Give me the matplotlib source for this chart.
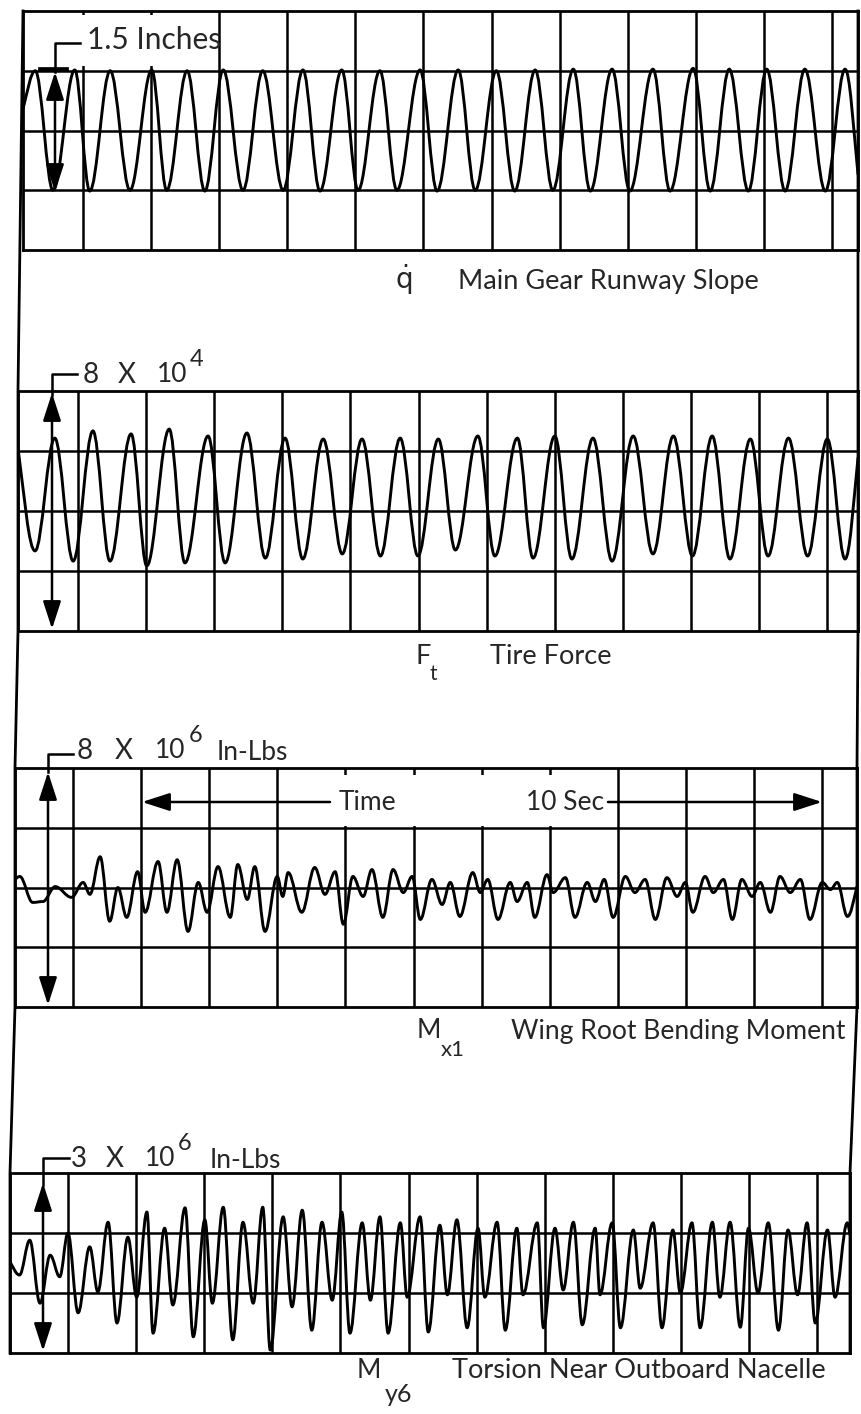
import matplotlib
matplotlib.use("Agg")
import matplotlib.pyplot as plt
from matplotlib.path import Path
from matplotlib.patches import PathPatch, Rectangle

# ---------------- data (extrema) ----------------
# time in seconds (1 s per vertical grid division)
# Panel 1: q-dot, main gear runway slope (inches)
slope_t = [-0.88, -0.70, -0.44, -0.12, 0.10, 0.40, 0.69, 1.01, 1.23, 1.53, 1.79, 2.06, 2.35, 2.64,
           2.94, 3.23, 3.48, 3.80, 4.04, 4.36, 4.61, 4.95, 5.20, 5.51, 5.76, 6.07, 6.34, 6.64,
           6.90, 7.20, 7.45, 7.77, 8.03, 8.37, 8.62, 8.96, 9.21, 9.49, 9.77, 10.04, 10.31,
           10.60, 10.90, 11.19, 11.38]
slope_v = [0.27, 0.75, -0.75, 0.76, -0.76, 0.75, -0.75, 0.76, -0.75, 0.75, -0.76, 0.76, -0.75,
           0.75, -0.75, 0.76, -0.76, 0.76, -0.75, 0.75, -0.75, 0.76, -0.76, 0.76, -0.75, 0.75,
           -0.76, 0.76, -0.75, 0.77, -0.76, 0.77, -0.76, 0.77, -0.76, 0.78, -0.76, 0.77, -0.76,
           0.77, -0.76, 0.77, -0.76, 0.77, -0.55]

# Panel 2: F_t, tire force (10^4 lb)
tire_t = [-0.88, -0.63, -0.34, -0.07, 0.22, 0.47, 0.78, 1.01, 1.34, 1.57, 1.91, 2.16, 2.48, 2.75,
          3.04, 3.30, 3.60, 3.88, 4.17, 4.44, 4.73, 4.99, 5.29, 5.54, 5.87, 6.12, 6.45, 6.68,
          7.00, 7.25, 7.56, 7.84, 8.15, 8.44, 8.74, 9.02, 9.31, 9.57, 9.87, 10.13, 10.43, 10.71,
          11.00, 11.26, 11.45]
tire_v = [2.10, -1.33, 2.43, -1.67, 2.67, -1.67, 2.57, -1.83, 2.73, -1.73, 2.50, -1.73, 2.60,
          -1.57, 2.43, -1.60, 2.40, -1.43, 2.40, -1.50, 2.43, -1.50, 2.40, -1.30, 2.50, -1.50,
          2.43, -1.57, 2.50, -1.60, 2.43, -1.67, 2.50, -1.43, 2.50, -1.50, 2.50, -1.60, 2.40,
          -1.50, 2.43, -1.50, 2.40, -1.60, 1.77]

# Panel 3: M_x1, wing root bending moment (10^6 in-lb)
bend_t = [-0.85, -0.78, -0.59, -0.44, -0.26, -0.02, 0.15, 0.25, 0.40, 0.54, 0.66, 0.79, 0.95,
          1.06, 1.25, 1.38, 1.53, 1.69, 1.84, 1.97, 2.13, 2.31, 2.42, 2.56, 2.67, 2.82, 3.00,
          3.08, 3.16, 3.36, 3.55, 3.70, 3.85, 3.97, 4.11, 4.26, 4.39, 4.55, 4.70, 4.85, 4.98,
          5.10, 5.27, 5.42, 5.54, 5.68, 5.87, 5.98, 6.09, 6.24, 6.42, 6.52, 6.67, 6.78, 6.96,
          7.05, 7.23, 7.37, 7.55, 7.67, 7.80, 7.93, 8.11, 8.25, 8.40, 8.55, 8.72, 8.87, 8.99,
          9.10, 9.28, 9.40, 9.55, 9.68, 9.82, 9.97, 10.09, 10.24, 10.38, 10.53, 10.68, 10.82,
          11.00, 11.12, 11.22, 11.37, 11.51]
bend_v = [0.27, 0.37, -0.50, -0.47, 0.03, -0.33, 0.17, -0.23, 1.03, -1.13, 0.00, -1.00, 0.53,
          -0.83, 0.87, -0.83, 0.93, -1.47, 0.17, -0.83, 0.70, -1.00, 0.77, -0.40, 0.70, -1.47,
          0.37, -0.30, 0.50, -0.83, 0.67, -0.23, 0.53, -1.23, 0.37, -0.30, 0.60, -1.00, 0.60,
          -0.17, 0.37, -1.07, 0.27, -0.57, 0.17, -0.97, 0.50, -0.17, 0.27, -1.07, 0.17, -0.47,
          0.17, -1.00, 0.43, -0.17, 0.33, -1.00, 0.17, -0.47, 0.27, -1.00, 0.37, -0.17, 0.27,
          -1.07, 0.33, -0.30, 0.17, -0.83, 0.37, -0.17, 0.27, -1.07, 0.27, -0.30, 0.17, -0.83,
          0.37, -0.17, 0.27, -1.07, 0.17, -0.07, 0.17, -0.97, 0.03]

# Panel 4: M_y6, torsion near outboard nacelle (10^6 in-lb)
tors_t = [-0.85, -0.71, -0.56, -0.41, -0.26, -0.12, 0.00, 0.15, 0.32, 0.44, 0.59, 0.72, 0.88,
          1.01, 1.16, 1.25, 1.42, 1.54, 1.72, 1.84, 2.01, 2.12, 2.28, 2.42, 2.57, 2.72, 2.86,
          2.97, 3.16, 3.29, 3.44, 3.58, 3.73, 3.88, 4.02, 4.14, 4.32, 4.44, 4.58, 4.70, 4.88,
          4.98, 5.17, 5.29, 5.46, 5.57, 5.71, 5.86, 6.02, 6.12, 6.30, 6.42, 6.59, 6.68, 6.89,
          6.98, 7.15, 7.27, 7.42, 7.55, 7.74, 7.81, 7.99, 8.11, 8.30, 8.40, 8.59, 8.72, 8.88,
          8.99, 9.16, 9.28, 9.46, 9.57, 9.72, 9.87, 9.99, 10.13, 10.28, 10.43, 10.57, 10.71,
          10.85, 10.97, 11.15, 11.26, 11.44, 11.48]
tors_v = [0.02, -0.20, 0.38, -0.67, 0.13, -0.23, 0.50, -0.83, 0.27, -0.48, 0.68, -1.00, 0.43,
          -0.57, 0.85, -1.17, 0.58, -0.70, 0.92, -1.23, 0.72, -0.67, 0.93, -1.28, 0.68, -0.67,
          0.93, -1.45, 0.77, -0.73, 0.88, -1.12, 0.68, -0.62, 0.85, -1.17, 0.67, -0.62, 0.77,
          -1.17, 0.67, -0.57, 0.77, -1.15, 0.63, -0.53, 0.72, -1.08, 0.58, -0.57, 0.68, -1.12,
          0.58, -0.53, 0.67, -1.08, 0.58, -0.45, 0.68, -1.03, 0.58, -0.53, 0.67, -1.08, 0.55,
          -0.42, 0.67, -1.08, 0.55, -0.50, 0.67, -1.08, 0.68, -0.57, 0.68, -1.07, 0.58, -0.50,
          0.67, -1.12, 0.55, -0.53, 0.67, -1.00, 0.55, -0.57, 0.67, 0.47]

grid_seconds = list(range(0, 12))
titles = ["Main Gear Runway Slope", "Tire Force", "Wing Root Bending Moment",
          "Torsion Near Outboard Nacelle"]

# ---------------- layout ----------------
W, H = 861, 1414
fig = plt.figure(figsize=(W / 100, H / 100), dpi=100)
fig.patch.set_facecolor("white")
FONT = ["Lato", "DejaVu Sans"]
TXT = "#262626"
LW_GRID = 1.8
LW_TRACE = 2.1


def px_axes(left, right, top, bottom):
    return fig.add_axes([left / W, 1 - bottom / H, (right - left) / W, (bottom - top) / H])


def trace(ax, t, v):
    verts = [(t[0], v[0])]
    codes = [Path.MOVETO]
    n = len(t)
    for i in range(n - 1):
        t0, v0, t1, v1 = t[i], v[i], t[i + 1], v[i + 1]
        d = 0.3634 * (t1 - t0)
        c1 = (t0 + d, v0) if i > 0 else (t0 + d, v0 + 0.45 * (v1 - v0))
        c2 = (t1 - d, v1) if i + 1 < n - 1 else (t1 - d, v1 - 0.45 * (v1 - v0))
        verts += [c1, c2, (t1, v1)]
        codes += [Path.CURVE4] * 3
    ax.add_patch(PathPatch(Path(verts, codes), fill=False, lw=LW_TRACE, ec="black",
                           joinstyle="round", capstyle="round", zorder=3))


panels = [
    dict(px=(23, 858, 11, 250), xl=(-0.88, 11.38), yl=(-1.5, 1.5), yt=[-0.75, 0, 0.75],
         t=slope_t, v=slope_v),
    dict(px=(18, 858, 391, 631), xl=(-0.88, 11.45), yl=(-4, 4), yt=[-2, 0, 2],
         t=tire_t, v=tire_v),
    dict(px=(15, 857, 768, 1007), xl=(-0.85, 11.51), yl=(-4, 4), yt=[-2, 0, 2],
         t=bend_t, v=bend_v),
    dict(px=(10, 850, 1173, 1353), xl=(-0.85, 11.48), yl=(-1.5, 1.5), yt=[-0.5, 0.5],
         t=tors_t, v=tors_v),
]

for p in panels:
    ax = px_axes(*p["px"])
    ax.set_xlim(*p["xl"])
    ax.set_ylim(*p["yl"])
    ax.set_xticks(grid_seconds)
    ax.set_yticks(p["yt"])
    ax.tick_params(length=0, labelbottom=False, labelleft=False)
    ax.grid(True, color="black", lw=LW_GRID)
    ax.set_axisbelow(True)
    for s in ax.spines.values():
        s.set_linewidth(LW_GRID + 0.2)
        s.set_color("black")
    trace(ax, p["t"], p["v"])

# overlay in pixel coordinates for frame, scale markers and captions
ov = fig.add_axes([0, 0, 1, 1], zorder=10)
ov.set_xlim(0, W)
ov.set_ylim(H, 0)
ov.axis("off")

# white label areas that interrupt the grid on the record
ov.add_patch(Rectangle((80, 15), 138, 51, fc="white", ec="none", zorder=1))
ov.add_patch(Rectangle((334, 775), 278, 51, fc="white", ec="none", zorder=1))

# outer frame sides
ov.plot([23, 18, 18, 15, 15, 10, 10], [11, 391, 631, 768, 1007, 1173, 1353],
        color="black", lw=LW_GRID + 0.2, zorder=2)
ov.plot([858, 858, 858, 857, 857, 850, 850], [11, 391, 631, 768, 1007, 1173, 1353],
        color="black", lw=LW_GRID + 0.2, zorder=2)


def arrow(tail, tip, style="-|>"):
    ov.annotate("", xy=tip, xytext=tail, zorder=2,
                arrowprops=dict(arrowstyle=style + ",head_length=1.7,head_width=0.55",
                                mutation_scale=10, lw=1.8, color="black",
                                shrinkA=0, shrinkB=0))


def txt(x, y, s, size=19.5, **kw):
    ov.text(x, y, s, fontsize=size, family=FONT, color=TXT, ha="left", va="center",
            zorder=3, **kw)


# panel 1 scale marker
ov.plot([80, 55, 55], [43, 43, 72], color="black", lw=1.8, zorder=2)
ov.plot([40, 66], [69, 69], color="black", lw=3.4, zorder=2)
arrow((55, 72), (55, 192), "<|-|>")
txt(87, 40, "1.5 Inches", 21.5)

# panel 2 scale marker
ov.plot([77, 52, 52], [374, 374, 395], color="black", lw=1.8, zorder=2)
arrow((52, 393), (52, 629), "<|-|>")
txt(83, 375, "8", 20)
txt(118, 375, "X", 20)
txt(157, 375, "10", 19)
txt(190, 360, "4", 17)

# panel 3 scale marker
ov.plot([73, 48, 48], [754, 754, 772], color="black", lw=1.8, zorder=2)
arrow((48, 772), (48, 1005), "<|-|>")
txt(77, 751, "8", 20)
txt(115, 751, "X", 20)
txt(155, 751, "10", 19)
txt(189, 736, "6", 17)
txt(217, 752, "In-Lbs", 19)

# time arrow in panel 3
arrow((330, 802), (142, 802))
arrow((608, 802), (822, 802))
txt(339, 802, "Time", 19)
txt(526, 802, "10 Sec", 19)

# panel 4 scale marker
ov.plot([69, 43, 43], [1158, 1158, 1185], color="black", lw=1.8, zorder=2)
arrow((43, 1183), (43, 1351), "<|-|>")
txt(71, 1159, "3", 20)
txt(106, 1159, "X", 20)
txt(145, 1159, "10", 19)
txt(178, 1143, "6", 17)
txt(210, 1160, "In-Lbs", 19)

# captions
txt(395, 280, r"$\dot{\mathrm{q}}$", 20)
txt(458, 281, titles[0])
txt(416, 656, "F")
txt(430, 674, "t", 15)
txt(490, 656, titles[1])
txt(417, 1031, "M", 19)
txt(441, 1050, "x1", 16)
txt(511, 1031, titles[2], 19.1)
txt(357, 1370, "M", 19)
txt(385, 1394, "y6", 18)
txt(452, 1371, titles[3])

fig.savefig("out.png", dpi=100, facecolor="white")
